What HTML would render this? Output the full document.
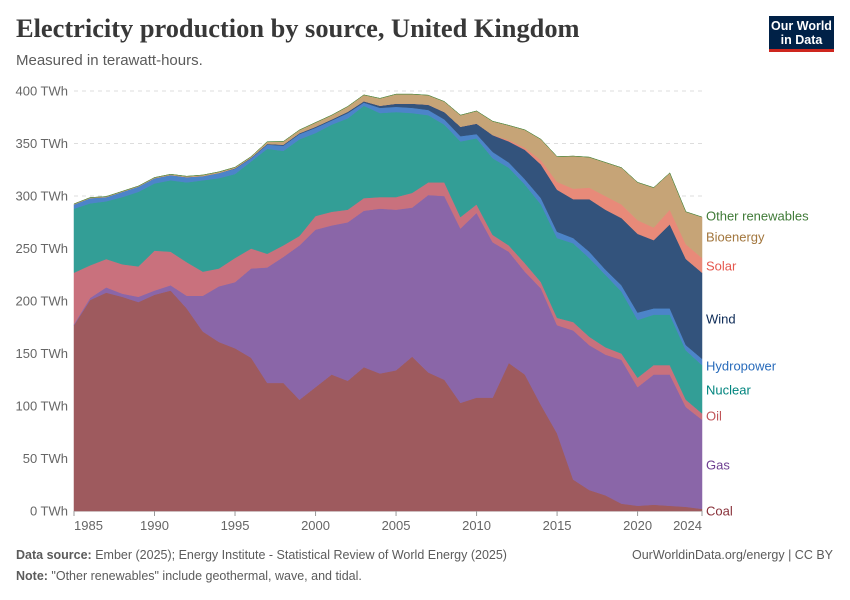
<!DOCTYPE html>
<html><head><meta charset="utf-8"><style>
body{margin:0;background:#fff;font-family:"Liberation Sans",sans-serif}
#wrap{position:relative;width:850px;height:600px;overflow:hidden}
.t{position:absolute;white-space:nowrap}
</style></head><body>
<div id="wrap">
<div class="t" style="left:16px;top:13px;font-family:'Liberation Serif',serif;font-size:26.4px;font-weight:bold;color:#383838">Electricity production by source, United Kingdom</div>
<div class="t" style="left:16px;top:52px;font-size:15px;color:#5b5b5b">Measured in terawatt-hours.</div>
<div style="position:absolute;left:769px;top:16px;width:65px;height:36px;background:#002147;border-bottom:3px solid #ce261e;box-sizing:border-box;color:#fff;font-size:12.5px;line-height:14px;text-align:center;padding-top:3px;font-weight:bold">Our World<br>in Data</div>
<svg id="chart" width="850" height="600" style="position:absolute;left:0;top:0"></svg>
<div class="t" style="left:16px;top:548px;font-size:12.5px;color:#5b5b5b"><b>Data source:</b> Ember (2025); Energy Institute - Statistical Review of World Energy (2025)</div>
<div class="t" style="right:17px;top:548px;font-size:12.5px;color:#5b5b5b">OurWorldinData.org/energy | CC BY</div>
<div class="t" style="left:16px;top:569px;font-size:12.5px;color:#5b5b5b"><b>Note:</b> "Other renewables" include geothermal, wave, and tidal.</div>
</div>
<script>
const years=[1985,1986,1987,1988,1989,1990,1991,1992,1993,1994,1995,1996,1997,1998,1999,2000,2001,2002,2003,2004,2005,2006,2007,2008,2009,2010,2011,2012,2013,2014,2015,2016,2017,2018,2019,2020,2021,2022,2023,2024];
const coal=[177,201,208,204,199,206,210,193,171,161,155,146,122,122,106,118,130,124,137,131,134,147,132,125,103,108,108,141,130,101,74,30,20,15,7,5,6,5,4,2];
const gas=[1,2,5,3,5,4,5,12,34,53,63,85,110,120,147,150,142,151,149,157,153,142,169,175,166,176,148,106,98,111,103,142,138,134,137,113,124,125,95,85];
const oil=[49,31,27,28,29,38,32,32,23,17,23,19,13,11,9,13,13,12,12,11,12,14,12,13,11,8,7,6,8,6,7,8,8,7,6,9,9,9,7,6];
const nuclear=[61,59,55,64,71,64,68,76,87,86,80,83,100,90,92,79,83,87,88,80,81,76,64,55,72,63,73,74,75,74,76,75,75,69,59,55,48,48,47,46];
const hydro=[4,5,4,5,5,5,5,5,4,5,5,3,4,5,5,5,4,5,3,5,5,5,5,5,5,4,6,5,5,6,6,5,6,5,6,7,6,6,5,6];
const wind=[0,0,0,0,0,0,0,0,0,0,0.4,0.5,0.7,0.9,0.9,1,1,1.3,1.3,2,3,4,5,7,9,10,16,20,28,32,40,37,50,57,64,75,65,80,82,82];
const solar=[0,0,0,0,0,0,0,0,0,0,0,0,0,0,0,0,0,0,0,0,0,0,0,0,0,0,0.2,1.3,2,4,7.5,10,11,13,13,13,12,14,14,14];
const bioenergy=[0.5,0.5,0.5,0.5,0.5,0.6,0.7,0.8,1,1,1,1,2,3,3,4,4,5,6,7,9,9,9,10,11,12,13,14,17,20,24,31,29,32,35,36,38,35,31,39];
const otherRenewables=[0,0,0,0,0,0,0,0,0,0,0,0,0,0,0,0,0,0,0,0,0,0,0,0,0,0,0,0,0,0,0,0,0,0,0,0,0,0,0,0];
const yTicks=[0,50,100,150,200,250,300,350,400];
const xTicks=[1985,1990,1995,2000,2005,2010,2015,2020,2024];
const series=[
 {name:"Coal",v:coal,c:"#9e5a5e",lc:"#883039",ly:511},
 {name:"Gas",v:gas,c:"#8a66a8",lc:"#6d3e91",ly:465},
 {name:"Oil",v:oil,c:"#c9717d",lc:"#c05458",ly:416},
 {name:"Nuclear",v:nuclear,c:"#339e96",lc:"#00847e",ly:390},
 {name:"Hydropower",v:hydro,c:"#4c84c9",lc:"#286bbb",ly:366},
 {name:"Wind",v:wind,c:"#33537c",lc:"#0c2a56",ly:319},
 {name:"Solar",v:solar,c:"#e88a79",lc:"#e5574d",ly:266},
 {name:"Bioenergy",v:bioenergy,c:"#c6a477",lc:"#a2763d",ly:237},
 {name:"Other renewables",v:otherRenewables,c:"#4c8a42",lc:"#3f7a37",ly:216}
];
const NS="http://www.w3.org/2000/svg";
const svg=document.getElementById('chart');
const X0=74,X1=702,Y0=511,Y1=91;
const x=y=>X0+(y-years[0])/(years[years.length-1]-years[0])*(X1-X0);
const y=v=>Y0-v/400*(Y0-Y1);
function mk(t,a){const e=document.createElementNS(NS,t);for(const k in a)e.setAttribute(k,a[k]);svg.appendChild(e);return e;}
yTicks.forEach(t=>{
 const l=mk('line',{x1:X0,x2:X1,y1:y(t),y2:y(t),stroke:t===0?'#999':'#ddd','stroke-dasharray':t===0?'':'4,4'});
 
 
 const tx=mk('text',{x:68,y:y(t)+4.5,'text-anchor':'end','font-size':13,fill:'#666','font-family':'Liberation Sans, sans-serif'});
 tx.textContent=t+' TWh';
 
 
});
let base=years.map(()=>0);
series.forEach(s=>{
 const top=base.map((b,i)=>b+s.v[i]);
 let d='M'+years.map((yr,i)=>x(yr)+','+y(top[i])).join('L');
 for(let i=years.length-1;i>=0;i--)d+='L'+x(years[i])+','+y(base[i]);
 const p=mk('path',{d:d+'Z',fill:s.c,stroke:s.c,'stroke-width':0.5});
 
 
 const lb=mk('text',{x:706,y:s.ly+4.5,'font-size':13,fill:s.lc,'font-family':'Liberation Sans, sans-serif'});
 lb.textContent=s.name;
 
 
 base=top;
});
xTicks.forEach((t,i)=>{
 const tk=mk('line',{x1:x(t),x2:x(t),y1:Y0,y2:Y0+5,stroke:'#999'});
 
 
 const anchor=i===0?'start':(i===xTicks.length-1?'end':'middle');
 const tx=mk('text',{x:x(t),y:Y0+19,'text-anchor':anchor,'font-size':13,fill:'#666','font-family':'Liberation Sans, sans-serif'});
 tx.textContent=t;
 
 
});
</script>
</body></html>
